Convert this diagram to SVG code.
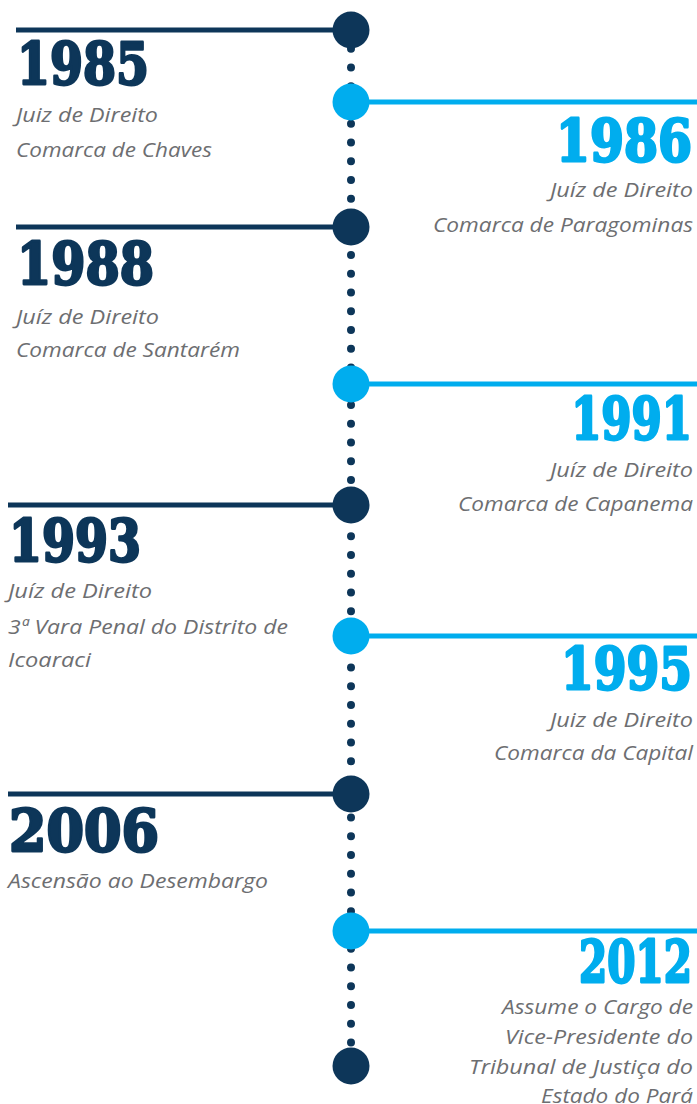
<svg xmlns="http://www.w3.org/2000/svg" width="697" height="1104" viewBox="0 0 697 1104">
<style>
.bg{fill:#ffffff}
.spine{stroke:#0d3659;stroke-width:8;stroke-linecap:round;stroke-dasharray:0 18.75;fill:none}
.dl{stroke:#0d3659;stroke-width:5}
.ll{stroke:#00adee;stroke-width:5}
.dc{fill:#0d3659}
.lc{fill:#00adee}
.yd{font-family:"DejaVu Serif",serif;font-weight:bold;font-size:57px;fill:#0d3659;stroke:#0d3659;stroke-width:2.8;stroke-linejoin:round}
.yl{font-family:"DejaVu Serif",serif;font-weight:bold;font-size:57px;fill:#00adee;stroke:#00adee;stroke-width:2.8;stroke-linejoin:round;text-anchor:end}
.t{font-family:"Open Sans","Noto Sans",sans-serif;font-style:italic;font-size:20px;fill:#6d6e71}
.r{text-anchor:end}
</style>
<rect class="bg" x="0" y="0" width="697" height="1104"/>
<g id="connectors">
<line class="spine" x1="351" y1="30" x2="351" y2="1066"/>
</g>
<g id="n1985">
<line class="dl" x1="16" y1="30" x2="351" y2="30"/>
<circle class="dc" cx="351" cy="30" r="18.5"/>
<text class="yd" transform="matrix(0.832 0 0 1 17 84)">1985</text>
<text class="t" x="16" y="122" textLength="142" lengthAdjust="spacingAndGlyphs">Juiz de Direito</text>
<text class="t" x="16" y="157" textLength="196" lengthAdjust="spacingAndGlyphs">Comarca de Chaves</text>
</g>
<g id="n1986">
<line class="ll" x1="351" y1="102" x2="697" y2="102"/>
<circle class="lc" cx="351" cy="102" r="18.5"/>
<text class="yl" transform="matrix(0.857 0 0 1 692 160.5)">1986</text>
<text class="t r" x="693" y="197" textLength="143" lengthAdjust="spacingAndGlyphs">Juíz de Direito</text>
<text class="t r" x="693" y="232" textLength="260" lengthAdjust="spacingAndGlyphs">Comarca de Paragominas</text>
</g>
<g id="n1988">
<line class="dl" x1="16" y1="227" x2="351" y2="227"/>
<circle class="dc" cx="351" cy="227" r="18.5"/>
<text class="yd" transform="matrix(0.863 0 0 1 17 284)">1988</text>
<text class="t" x="16" y="324" textLength="143" lengthAdjust="spacingAndGlyphs">Juíz de Direito</text>
<text class="t" x="16" y="357" textLength="224" lengthAdjust="spacingAndGlyphs">Comarca de Santarém</text>
</g>
<g id="n1991">
<line class="ll" x1="351" y1="384" x2="697" y2="384"/>
<circle class="lc" cx="351" cy="384" r="18.5"/>
<text class="yl" transform="matrix(0.762 0 0 1 692 439)">1991</text>
<text class="t r" x="693" y="477" textLength="143" lengthAdjust="spacingAndGlyphs">Juíz de Direito</text>
<text class="t r" x="693" y="511" textLength="235" lengthAdjust="spacingAndGlyphs">Comarca de Capanema</text>
</g>
<g id="n1993">
<line class="dl" x1="8" y1="505" x2="351" y2="505"/>
<circle class="dc" cx="351" cy="505" r="18.5"/>
<text class="yd" transform="matrix(0.832 0 0 1 9 560.5)">1993</text>
<text class="t" x="8" y="598" textLength="144" lengthAdjust="spacingAndGlyphs">Juíz de Direito</text>
<text class="t" x="8" y="634" textLength="280" lengthAdjust="spacingAndGlyphs">3ª Vara Penal do Distrito de</text>
<text class="t" x="8" y="667" textLength="83" lengthAdjust="spacingAndGlyphs">Icoaraci</text>
</g>
<g id="n1995">
<line class="ll" x1="351" y1="636" x2="697" y2="636"/>
<circle class="lc" cx="351" cy="636" r="18.5"/>
<text class="yl" transform="matrix(0.825 0 0 1 692 689)">1995</text>
<text class="t r" x="693" y="727" textLength="143" lengthAdjust="spacingAndGlyphs">Juiz de Direito</text>
<text class="t r" x="693" y="760" textLength="199" lengthAdjust="spacingAndGlyphs">Comarca da Capital</text>
</g>
<g id="n2006">
<line class="dl" x1="8" y1="794" x2="351" y2="794"/>
<circle class="dc" cx="351" cy="794" r="18.5"/>
<text class="yd" transform="matrix(0.945 0 0 1 9 850.5)">2006</text>
<text class="t" x="8" y="888" textLength="260" lengthAdjust="spacingAndGlyphs">Ascensão ao Desembargo</text>
</g>
<g id="n2012">
<line class="ll" x1="351" y1="931" x2="697" y2="931"/>
<circle class="lc" cx="351" cy="931" r="18.5"/>
<text class="yl" transform="matrix(0.712 0 0 1 692 981.5)">2012</text>
<text class="t r" x="693" y="1014" textLength="191" lengthAdjust="spacingAndGlyphs">Assume o Cargo de</text>
<text class="t r" x="693" y="1043.5" textLength="188" lengthAdjust="spacingAndGlyphs">Vice-Presidente do</text>
<text class="t r" x="693" y="1073.5" textLength="224" lengthAdjust="spacingAndGlyphs">Tribunal de Justiça do</text>
<text class="t r" x="693" y="1103" textLength="152" lengthAdjust="spacingAndGlyphs">Estado do Pará</text>
</g>
<g id="nend">
<circle class="dc" cx="351" cy="1066" r="18.5"/>
</g>
</svg>
